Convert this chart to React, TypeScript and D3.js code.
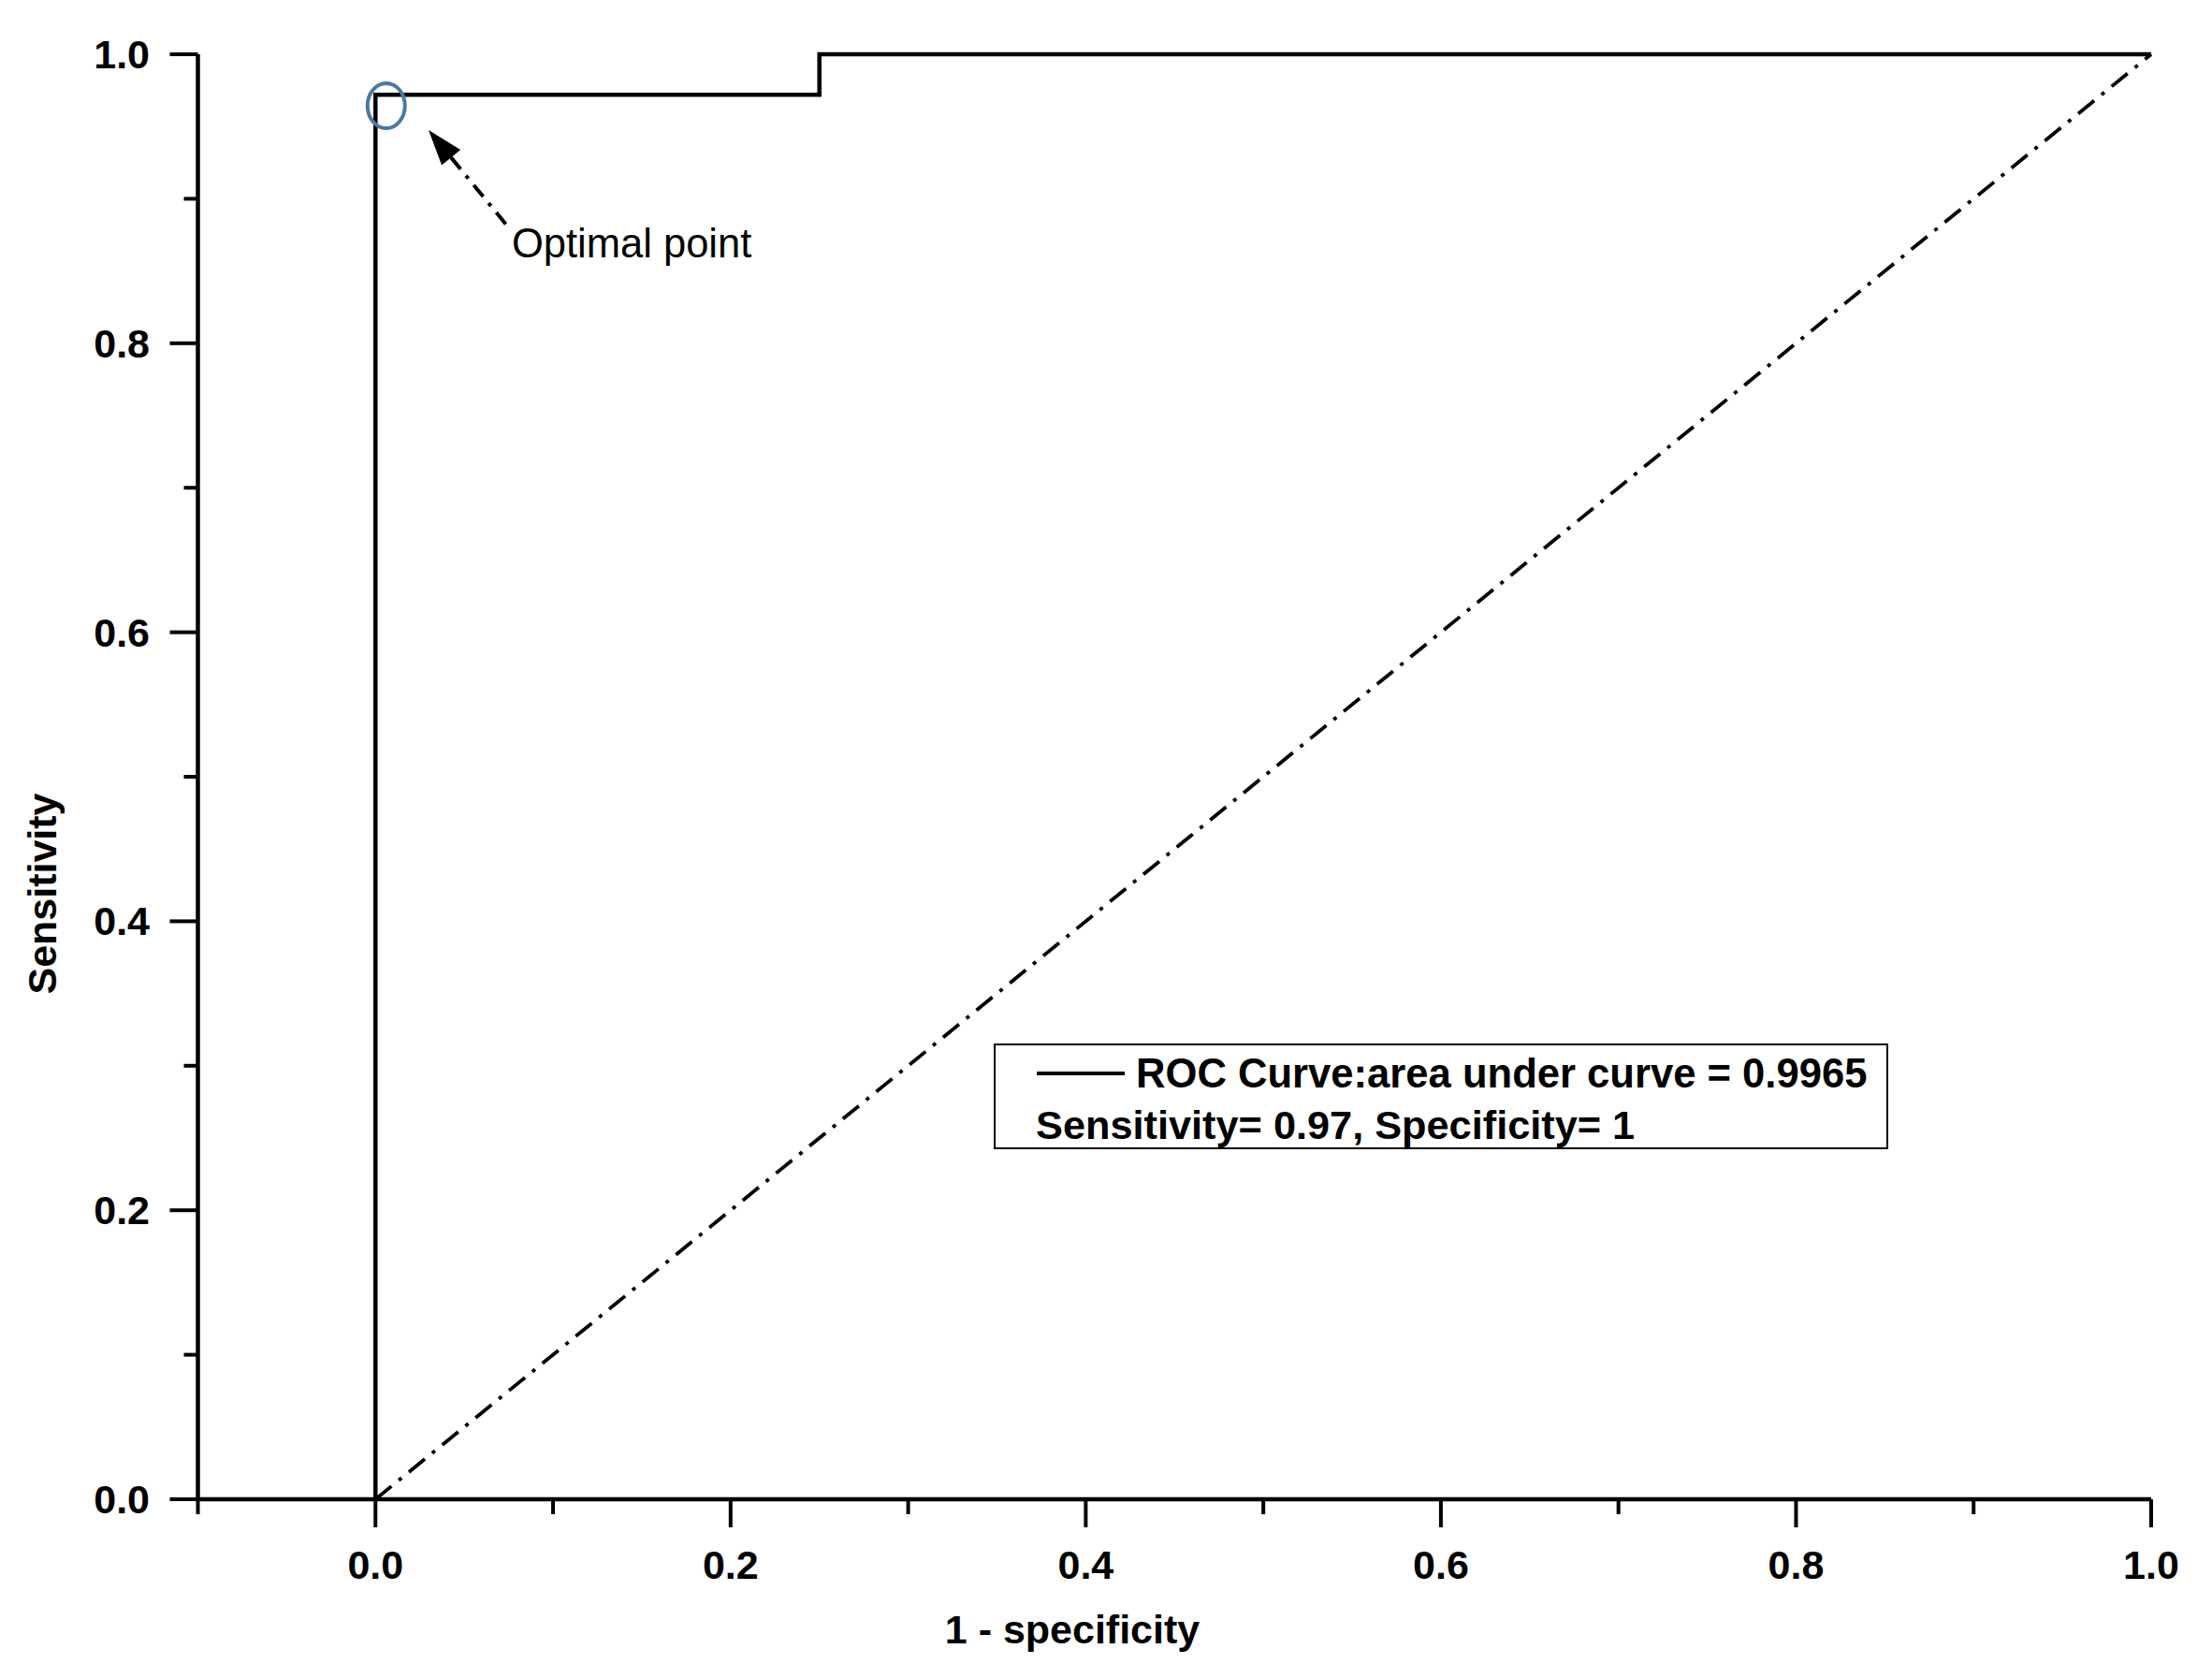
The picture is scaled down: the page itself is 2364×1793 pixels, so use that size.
import React, { useEffect } from "react";
import * as d3 from "d3";

const rocFpr = [0, 0, 0.25, 0.25, 1];
const rocTpr = [0, 0.972, 0.972, 1, 1];
const refFpr = [0, 1];
const refTpr = [0, 1];
const majorTicks = [0, 0.2, 0.4, 0.6, 0.8, 1.0];
const xMinorTicks = [-0.1, 0.1, 0.3, 0.5, 0.7, 0.9];
const yMinorTicks = [0.1, 0.3, 0.5, 0.7, 0.9];
const optimal = { fpr: 0.005, tpr: 0.965 };
const legendLine1 = "ROC Curve:area under curve = 0.9965";
const legendLine2 = "Sensitivity= 0.97, Specificity= 1";
const xTitle = "1 - specificity";
const yTitle = "Sensitivity";
const annotation = "Optimal point";

const W = 2364;
const H = 1793;
const FONT = "'Liberation Sans', Arial, sans-serif";

export default function App() {
  useEffect(() => {
    document.body.style.margin = "0";
  }, []);

  const x = d3.scaleLinear().domain([-0.1, 1.0]).range([211.5, 2299]);
  const y = d3.scaleLinear().domain([0, 1]).range([1602, 58]);

  const line = d3
    .line<number>()
    .x((d, i) => x(rocFpr[i]))
    .y((d, i) => y(rocTpr[i]));
  const rocPath = line(rocFpr) || "";
  const refPath =
    d3
      .line<number>()
      .x((d, i) => x(refFpr[i]))
      .y((d, i) => y(refTpr[i]))(refFpr) || "";

  const fmt = d3.format(".1f");
  const axisY0 = y(0);
  const axisX0 = x(-0.1);

  // arrow geometry
  const tipX = 458, tipY = 139;
  const tailX = 541, tailY = 240;
  const ang = Math.atan2(tailY - tipY, tailX - tipX);
  const headLen = 38, headW = 13;
  const bx = tipX + Math.cos(ang) * headLen;
  const by = tipY + Math.sin(ang) * headLen;
  const px = -Math.sin(ang) * headW, py = Math.cos(ang) * headW;

  return (
    <svg width={W} height={H} style={{ display: "block", background: "#fff" }}>
      {/* reference diagonal */}
      <path d={refPath} fill="none" stroke="#000" strokeWidth={3.8} strokeDasharray="22 10 4 10" />
      {/* ROC curve */}
      <path d={rocPath} fill="none" stroke="#000" strokeWidth={4.5} strokeLinejoin="miter" />

      {/* X axis */}
      <line x1={axisX0} x2={x(1)} y1={axisY0} y2={axisY0} stroke="#000" strokeWidth={4.5} />
      {majorTicks.map((t) => (
        <g key={"xm" + t}>
          <line x1={x(t)} x2={x(t)} y1={axisY0} y2={axisY0 + 30} stroke="#000" strokeWidth={4} />
          <text x={x(t)} y={axisY0 + 85} textAnchor="middle" fontFamily={FONT} fontWeight="bold" fontSize={43}>
            {fmt(t)}
          </text>
        </g>
      ))}
      {xMinorTicks.map((t) => (
        <line key={"xn" + t} x1={x(t)} x2={x(t)} y1={axisY0} y2={axisY0 + 16} stroke="#000" strokeWidth={4} />
      ))}

      {/* Y axis */}
      <line x1={axisX0} x2={axisX0} y1={y(0)} y2={y(1)} stroke="#000" strokeWidth={4.5} />
      {majorTicks.map((t) => (
        <g key={"ym" + t}>
          <line x1={axisX0} x2={axisX0 - 30} y1={y(t)} y2={y(t)} stroke="#000" strokeWidth={4} />
          <text x={160} y={y(t) + 15} textAnchor="end" fontFamily={FONT} fontWeight="bold" fontSize={43}>
            {fmt(t)}
          </text>
        </g>
      ))}
      {yMinorTicks.map((t) => (
        <line key={"yn" + t} x1={axisX0} x2={axisX0 - 15} y1={y(t)} y2={y(t)} stroke="#000" strokeWidth={4} />
      ))}

      {/* Axis titles */}
      <text x={1146} y={1756} textAnchor="middle" fontFamily={FONT} fontWeight="bold" fontSize={43}>
        {xTitle}
      </text>
      <text
        transform={`translate(60, ${955}) rotate(-90)`}
        textAnchor="middle"
        fontFamily={FONT}
        fontWeight="bold"
        fontSize={43}
      >
        {yTitle}
      </text>

      {/* Optimal point marker */}
      <ellipse cx={x(optimal.fpr) + 2} cy={y(optimal.tpr) + 1} rx={20} ry={24} fill="none" stroke="#4a78a6" strokeWidth={4} />
      <line x1={bx} y1={by} x2={tailX} y2={tailY} stroke="#000" strokeWidth={4} strokeDasharray="16 9 4 9" />
      <polygon points={`${tipX},${tipY} ${bx + px},${by + py} ${bx - px},${by - py}`} fill="#000" />
      <text x={547} y={275} fontFamily={FONT} fontSize={43.5}>
        {annotation}
      </text>

      {/* Legend */}
      <rect x={1063} y={1116} width={954} height={111} fill="#fff" stroke="#000" strokeWidth={2} />
      <line x1={1108} x2={1202} y1={1147} y2={1147} stroke="#000" strokeWidth={4} />
      <text x={1214} y={1162} fontFamily={FONT} fontWeight="bold" fontSize={43.6}>
        {legendLine1}
      </text>
      <text x={1107} y={1217} fontFamily={FONT} fontWeight="bold" fontSize={43.3}>
        {legendLine2}
      </text>
    </svg>
  );
}
